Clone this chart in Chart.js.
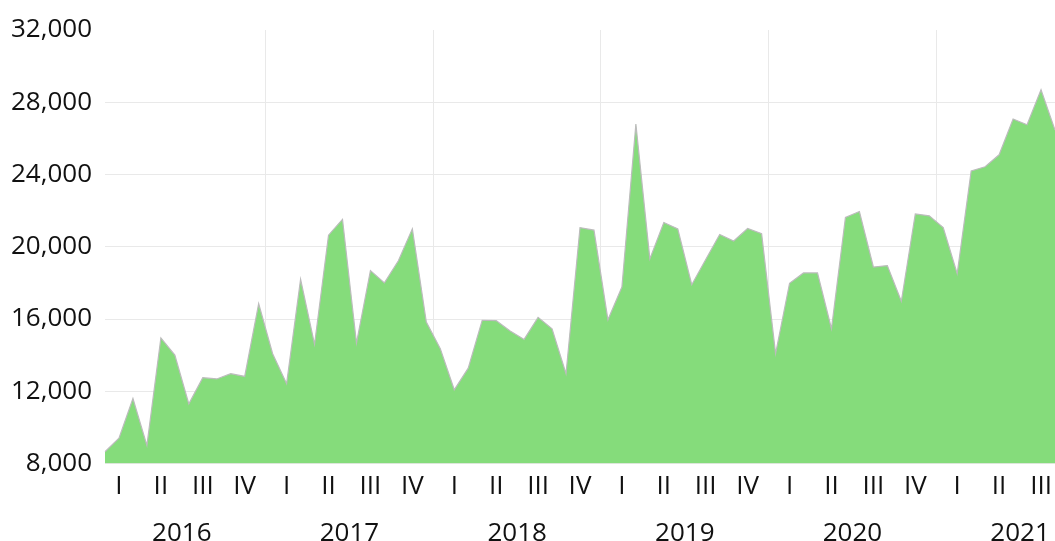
<!DOCTYPE html>
<html>
<head>
<meta charset="utf-8">
<script src="https://cdn.jsdelivr.net/npm/chart.js@4"></script>
<style>
  html, body { margin: 0; padding: 0; background: #fff; }
  #wrap { width: 1055px; height: 541px; }
</style>
</head>
<body>
<div id="wrap"><canvas id="chart"></canvas></div>
<script>
// data, one value per month, Jan 2016 .. Sep 2021
const years = ['2016', '2017', '2018', '2019', '2020', '2021'];
const quarters = ['I', 'II', 'III', 'IV'];
const values = [
  8650, 9400, 11600, 9000, 14950, 14000, 11300, 12750, 12680, 12970, 12820, 16850,   // 2016
  14080, 12420, 18200, 14600, 20640, 21520, 14670, 18680, 18000, 19220, 20990, 15830, // 2017
  14360, 12080, 13280, 15930, 15910, 15340, 14870, 16090, 15460, 12970, 21060, 20920, // 2018
  15960, 17770, 26790, 19330, 21340, 20990, 17900, 19290, 20680, 20320, 21010, 20730, // 2019
  14080, 17980, 18550, 18550, 15460, 21620, 21950, 18880, 18960, 16980, 21820, 21710, // 2020
  21060, 18510, 24200, 24430, 25090, 27070, 26750, 28690, 26460                        // 2021
];
const yTicks = [8000, 12000, 16000, 20000, 24000, 28000, 32000];

// one category per month
const months = [];
years.forEach(y => {
  for (let m = 1; m <= 12; m++) months.push(y + '-' + String(m).padStart(2, '0'));
});
months.length = values.length;

const gridColor = '#e9e9e9';
const textColor = '#111';
const tickFont = { family: 'Open Sans', size: 26 };

// year labels sit in the middle of each year, gridlines between Dec and Jan
const yearTicks = [];
years.forEach((y, i) => {
  yearTicks.push({ value: i * 12 + 5.5 });
  if (i > 0) yearTicks.push({ value: i * 12 - 0.5 });
});
yearTicks.sort((a, b) => a.value - b.value);

const config = {
  type: 'line',
  data: {
    labels: months,
    datasets: [{
      data: values,
      backgroundColor: '#85dc7b',
      borderColor: '#bcbcbc',
      borderWidth: 1.2,
      fill: 'start',
      pointRadius: 0,
      tension: 0
    }]
  },
  options: {
    responsive: true,
    maintainAspectRatio: false,
    animation: false,
    layout: { padding: { top: 30, left: 0, right: 0, bottom: 0 } },
    plugins: {
      legend: { display: false },
      tooltip: { enabled: false }
    },
    scales: {
      x: {
        type: 'category',
        weight: 0,
        afterFit: axis => { axis.height = 38; axis.paddingLeft = 0; axis.paddingRight = 0; },
        grid: { display: false, drawTicks: false },
        border: { display: false },
        ticks: {
          autoSkip: false,
          maxRotation: 0,
          padding: 7,
          color: textColor,
          font: tickFont,
          callback: (val, i) => i % 3 === 1 ? quarters[Math.floor(i / 3) % 4] : ''
        }
      },
      x2: {
        type: 'linear',
        position: 'bottom',
        weight: 1,
        min: 0,
        max: values.length - 1,
        afterBuildTicks: axis => { axis.ticks = yearTicks.map(t => ({ value: t.value })); },
        afterFit: axis => { axis.height = 39.5; axis.paddingLeft = 0; axis.paddingRight = 0; },
        grid: {
          drawTicks: false,
          color: ctx => ctx.tick && (ctx.tick.value + 0.5) % 12 === 0 ? gridColor : 'rgba(0,0,0,0)'
        },
        border: { display: false },
        ticks: {
          padding: 16,
          maxRotation: 0,
          autoSkip: false,
          color: textColor,
          font: tickFont,
          callback: v => (v - 5.5) % 12 === 0 ? years[Math.round((v - 5.5) / 12)] : ''
        }
      },
      y: {
        min: 8000,
        max: 32000,
        afterBuildTicks: axis => { axis.ticks = yTicks.map(v => ({ value: v })); },
        afterFit: axis => { axis.width = 105; },
        grid: {
          drawTicks: false,
          color: ctx => ctx.tick && ctx.tick.value === 32000 ? 'rgba(0,0,0,0)' : gridColor
        },
        border: { display: false },
        ticks: {
          padding: 13,
          color: textColor,
          font: tickFont,
          callback: v => v.toLocaleString('en-US')
        }
      }
    }
  }
};

new Chart(document.getElementById('chart').getContext('2d'), config);
</script>
</body>
</html>
